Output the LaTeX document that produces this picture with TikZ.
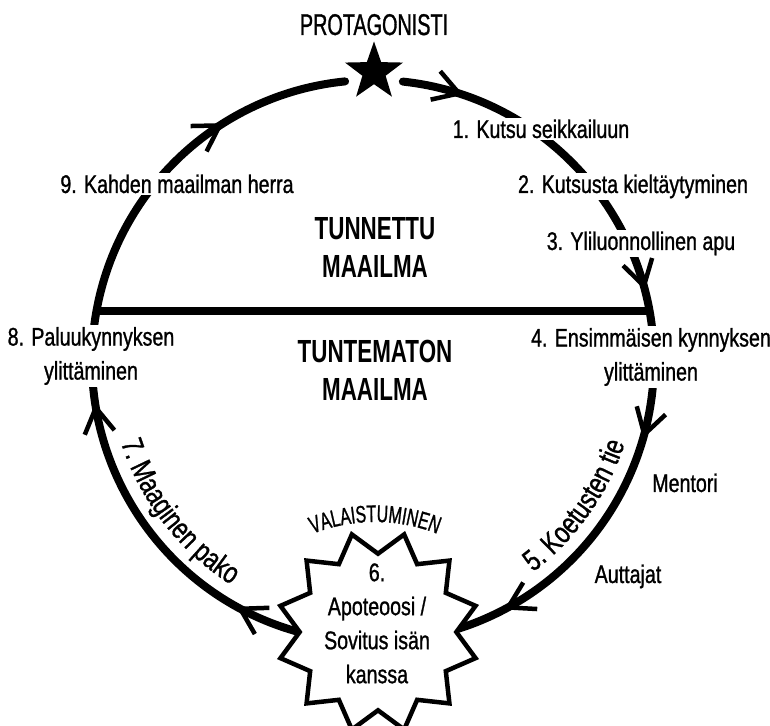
\documentclass[tikz,border=0pt]{standalone}
\usepackage{fontspec}
\setmainfont{Liberation Sans}[FakeStretch=0.77,FakeBold=1]
\newfontfamily\capsf{Liberation Sans}[FakeStretch=0.66,FakeBold=1]
\newfontfamily\boldf{Liberation Sans}[FakeStretch=0.70]
\usetikzlibrary{arrows.meta,decorations.markings,decorations.text,shapes.geometric,calc}
\tikzset{
  cbarb/.tip={Straight Barb[length=25pt,width=30pt,line width=4.5pt]},
  ring/.style={line width=8pt, line cap=round},
  lab/.style={font=\fontsize{25.5}{34}\selectfont, fill=white, inner sep=2pt, align=center},
  plainlab/.style={font=\fontsize{25.5}{34}\selectfont, inner sep=2pt, align=center},
  world/.style={font=\boldf\bfseries\fontsize{32}{38}\selectfont, align=center, inner sep=0pt},
}
\begin{document}
\begin{tikzpicture}[x=1pt,y=1pt]
\useasboundingbox (0,0) rectangle (770,725);
\def\R{281}
\coordinate (C) at (373,364);
\coordinate (r0) at ($(C)+(83.9:\R)$);
\coordinate (l0) at ($(C)+(256:\R)$);
\coordinate (wl) at ($(C)+(169.75:\R)$);
\coordinate (wr) at ($(C)+(10.25:\R)$);
% right half of the cycle
\draw[ring, postaction={decorate}, decoration={markings,
  mark=at position 0.080 with {\arrow{cbarb}},
  mark=at position 0.439 with {\arrow{cbarb}},
  mark=at position 0.633 with {\arrow{cbarb}},
  mark=at position 0.925 with {\arrow{cbarb}}}]
  (r0) arc[start angle=83.9, end angle=-74, radius=\R];
% left half of the cycle
\draw[ring, postaction={decorate}, decoration={markings,
  mark=at position 0.094 with {\arrow{cbarb}},
  mark=at position 0.420 with {\arrow{cbarb}},
  mark=at position 0.835 with {\arrow{cbarb}}}]
  (l0) arc[start angle=256, end angle=95.7, radius=\R];
% threshold line
\draw[line width=8pt] (wl) -- (wr);
% labels
\node[lab, anchor=base] (l1) at (541,587) {1. Kutsu seikkailuun};
\node[lab, anchor=base] (l2) at (633,532) {2. Kutsusta kieltäytyminen};
\node[lab, anchor=base] (l3) at (641,475) {3. Yliluonnollinen apu};
\node[lab, anchor=base] (l9) at (177,532) {9. Kahden maailman herra};
\node[lab] (l8) at (91,369) {8. Paluukynnyksen\\ylittäminen};
\node[lab] (l4) at (651,368) {4. Ensimmäisen kynnyksen\\ylittäminen};
\node[plainlab, anchor=base] (men) at (685,233) {Mentori};
\node[plainlab, anchor=base] (aut) at (628,142) {Auttajat};
\node[world] (known) at (375,477.5) {TUNNETTU\\MAAILMA};
\node[world] (unknown) at (375,355) {TUNTEMATON\\MAAILMA};
\node[font=\capsf\fontsize{30}{34}\selectfont, anchor=base] (prot) at (374,690) {PROTAGONISTI};
\node[star, star points=5, star point ratio=2.5, fill=black, minimum size=61pt, inner sep=0pt] (hero) at (374,653) {};
% curved stage names
\path[decorate, decoration={text along path, text align=center,
  text={|\fontsize{30}{34}\selectfont|5. Koetusten tie}}]
  ($(C)+(-70:265)$) arc[start angle=-70, end angle=-1, radius=265];
\path[decorate, decoration={text along path, text align=center,
  text={|\fontsize{30}{34}\selectfont|7. Maaginen pako}}]
  ($(C)+(183:265)$) arc[start angle=183, end angle=252.6, radius=265];
% ordeal star
\node[star, star points=12, star point ratio=1.29, minimum size=202pt, inner sep=0pt,
  draw, line width=4.5pt, fill=white, shape border rotate=15] (apo) at (378,93) {};
\node[plainlab] (apot) at (377,101.6) {6.\\Apoteoosi /\\Sovitus isän\\kanssa};
\path[decorate, decoration={text along path, text align=center,
  text={|\capsf\fontsize{24}{28}\selectfont|VALAISTUMINEN}}]
  ($(375,34)+(135:169)$) arc[start angle=135, end angle=45, radius=169];
\end{tikzpicture}
\end{document}
